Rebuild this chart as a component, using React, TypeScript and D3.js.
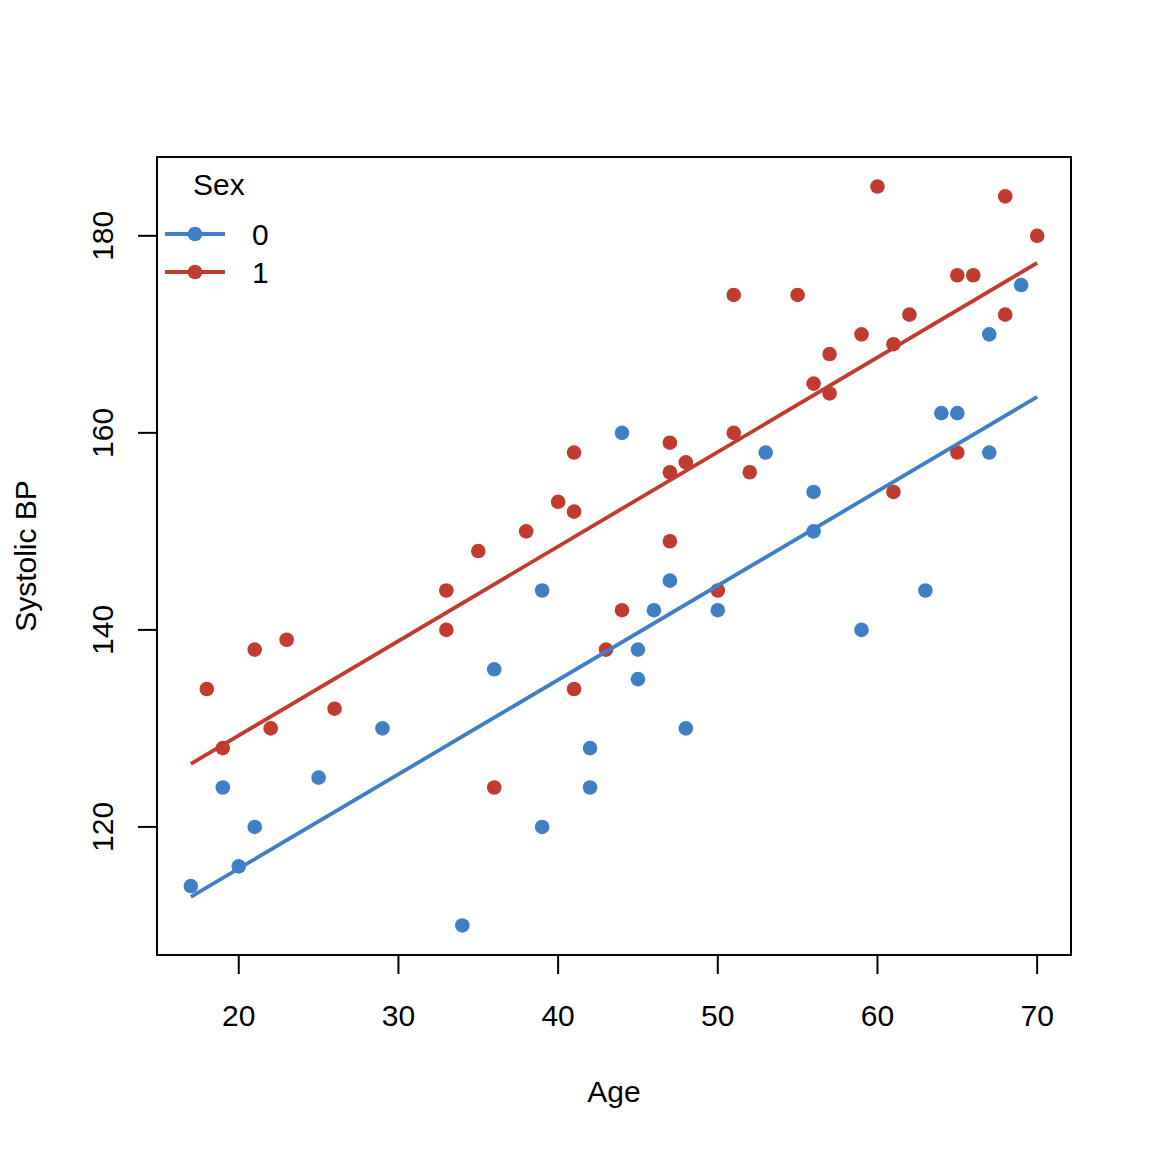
import React from "react";
import * as d3 from "d3";

// Age / systolic BP
const ageSex0 = [17, 19, 20, 21, 25, 29, 34, 36, 39, 39, 42, 42, 44, 45, 45, 46, 47, 48, 50, 53, 56, 56, 59, 63, 64, 65, 67, 67, 69];
const bpSex0 = [114, 124, 116, 120, 125, 130, 110, 136, 144, 120, 128, 124, 160, 138, 135, 142, 145, 130, 142, 158, 154, 150, 140, 144, 162, 162, 170, 158, 175];

const ageSex1 = [18, 19, 21, 22, 23, 26, 33, 33, 35, 36, 38, 40, 41, 41, 41, 43, 44, 47, 47, 47, 48, 50, 51, 51, 52, 55, 56, 57, 57, 59, 60, 61, 61, 62, 65, 65, 66, 68, 68, 70];
const bpSex1 = [134, 128, 138, 130, 139, 132, 144, 140, 148, 124, 150, 153, 158, 152, 134, 138, 142, 159, 156, 149, 157, 144, 174, 160, 156, 174, 165, 168, 164, 170, 185, 169, 154, 172, 176, 158, 176, 184, 172, 180];

// fitted lines (endpoints at min/max age)
const fitAge = [17, 70];
const fitSex0 = [112.9, 163.65];
const fitSex1 = [126.4, 177.25];

const xTicks = [20, 30, 40, 50, 60, 70];
const yTicks = [120, 140, 160, 180];
const legendLabels = ["0", "1"];

const colors = ["#3E7FC5", "#C13B2F"];

const W = 1152;
const H = 1152;
const plot = { left: 157, right: 1071, top: 157, bottom: 955 };
const font = "'Liberation Sans', Arial, Helvetica, sans-serif";

const App: React.FC = () => {
  const allAge = ageSex0.concat(ageSex1);
  const allBp = bpSex0.concat(bpSex1);
  const [ax0, ax1] = d3.extent(allAge) as [number, number];
  const [by0, by1] = d3.extent(allBp) as [number, number];
  const padX = (ax1 - ax0) * 0.04;
  const padY = (by1 - by0) * 0.04;

  const x = d3.scaleLinear().domain([ax0 - padX, ax1 + padX]).range([plot.left, plot.right]);
  const y = d3.scaleLinear().domain([by0 - padY, by1 + padY]).range([plot.bottom, plot.top]);

  const groups = [
    { ages: ageSex0, bps: bpSex0, fit: fitSex0, color: colors[0] },
    { ages: ageSex1, bps: bpSex1, fit: fitSex1, color: colors[1] },
  ];

  const line = d3
    .line<[number, number]>()
    .x((d) => x(d[0]))
    .y((d) => y(d[1]));

  return (
    <svg
      width={W}
      height={H}
      style={{ position: "absolute", left: 0, top: 0, background: "#fff" }}
      fontFamily={font}
    >
      <rect width={W} height={H} fill="#fff" />

      {groups.map((g, gi) => (
        <g key={gi}>
          {g.ages.map((a, i) => (
            <circle key={i} cx={x(a)} cy={y(g.bps[i])} r={7.3} fill={g.color} />
          ))}
        </g>
      ))}

      {groups.map((g, gi) => (
        <path
          key={"fit" + gi}
          d={line(fitAge.map((a, i) => [a, g.fit[i]] as [number, number])) ?? ""}
          fill="none"
          stroke={g.color}
          strokeWidth={3.8}
        />
      ))}

      {/* box */}
      <rect
        x={plot.left}
        y={plot.top}
        width={plot.right - plot.left}
        height={plot.bottom - plot.top}
        fill="none"
        stroke="#000"
        strokeWidth={2}
      />

      {/* x axis */}
      <line x1={x(xTicks[0])} x2={x(xTicks[xTicks.length - 1])} y1={plot.bottom} y2={plot.bottom} stroke="#000" strokeWidth={2} />
      {xTicks.map((t) => (
        <g key={t}>
          <line x1={x(t)} x2={x(t)} y1={plot.bottom} y2={plot.bottom + 19} stroke="#000" strokeWidth={2} />
          <text x={x(t)} y={1026} textAnchor="middle" fontSize={30}>
            {t}
          </text>
        </g>
      ))}

      {/* y axis */}
      {yTicks.map((t) => (
        <g key={t}>
          <line x1={plot.left - 19} x2={plot.left} y1={y(t)} y2={y(t)} stroke="#000" strokeWidth={2} />
          <text
            transform={`translate(113,${y(t)}) rotate(-90)`}
            textAnchor="middle"
            fontSize={30}
          >
            {t}
          </text>
        </g>
      ))}

      <text x={(plot.left + plot.right) / 2} y={1102} textAnchor="middle" fontSize={30}>
        Age
      </text>
      <text
        transform={`translate(36,${(plot.top + plot.bottom) / 2}) rotate(-90)`}
        textAnchor="middle"
        fontSize={30}
      >
        Systolic BP
      </text>

      {/* legend */}
      <text x={193} y={195} fontSize={30}>
        Sex
      </text>
      {legendLabels.map((lab, i) => {
        const ly = 234 + i * 38;
        return (
          <g key={lab}>
            <line x1={165} x2={225} y1={ly} y2={ly} stroke={colors[i]} strokeWidth={3.8} />
            <circle cx={195} cy={ly} r={7.3} fill={colors[i]} />
            <text x={252} y={ly + 11} fontSize={30}>
              {lab}
            </text>
          </g>
        );
      })}
    </svg>
  );
};

export default App;
